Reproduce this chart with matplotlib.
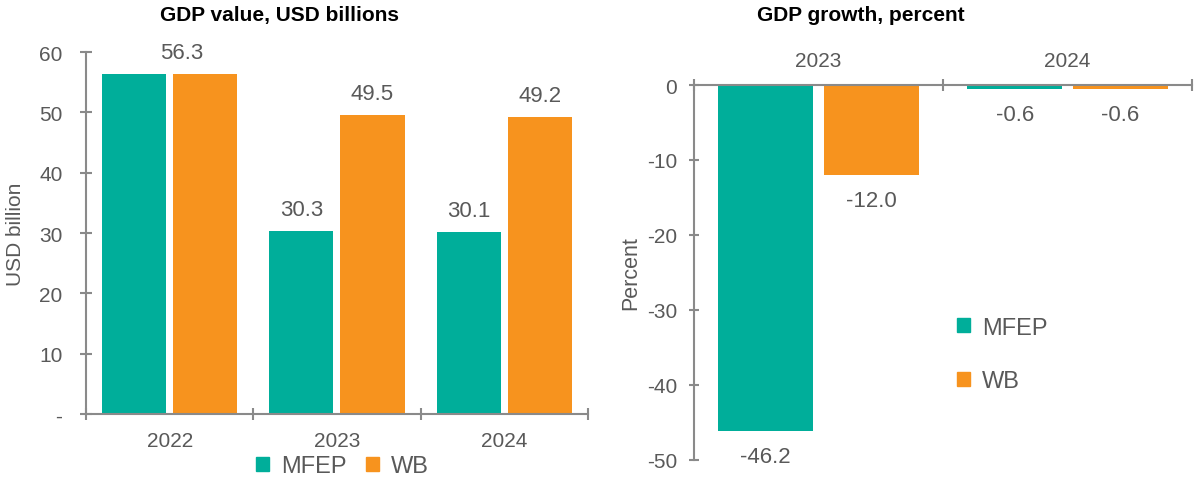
import numpy as np
import matplotlib
matplotlib.use('Agg')
import matplotlib.pyplot as plt
from matplotlib.patches import Patch

plt.rcParams['font.family'] = ['Liberation Sans', 'DejaVu Sans']
plt.rcParams['axes.unicode_minus'] = False

# данные
years_value = ['2022', '2023', '2024']
mfep_value = [56.3, 30.3, 30.1]
wb_value = [56.3, 49.5, 49.2]

years_growth = ['2023', '2024']
mfep_growth = [-46.2, -0.6]
wb_growth = [-12.0, -0.6]

TEAL = '#00AE9A'
ORANGE = '#F7931E'
AXIS = '#8A8A8A'
TEXT = '#595959'

bar_w = 0.383
off = bar_w / 2 + 0.021

fig = plt.figure(figsize=(11.96, 4.81), dpi=100)

# --- левый график: ВВП в млрд долл.
ax1 = fig.add_axes([0.0719, 0.1372, 0.4197, 0.7526])
x = np.arange(len(years_value))
ax1.bar(x - off, mfep_value, bar_w, color=TEAL)
ax1.bar(x + off, wb_value, bar_w, color=ORANGE)
ax1.set_xlim(-0.5, len(years_value) - 0.5)
ax1.set_ylim(0, 60)

# подписи значений (для 2022 одна общая подпись)
ax1.text(0.069, wb_value[0] + 3.6, f'{wb_value[0]:.1f}', ha='center', va='center',
         fontsize=16, color=TEXT)
for i in range(1, len(years_value)):
    ax1.text(x[i] - off, mfep_value[i] + 3.6, f'{mfep_value[i]:.1f}', ha='center',
             va='center', fontsize=16, color=TEXT)
    ax1.text(x[i] + off, wb_value[i] + 3.6, f'{wb_value[i]:.1f}', ha='center',
             va='center', fontsize=16, color=TEXT)

ax1.set_yticks(range(0, 61, 10))
ax1.set_yticklabels(['-'] + [str(v) for v in range(10, 61, 10)])
ax1.set_xticks(x)
ax1.set_xticklabels(years_value)
ax1.set_xticks(np.arange(-0.5, len(years_value), 1), minor=True)
ax1.tick_params(axis='x', which='major', length=0, pad=12, labelsize=15, labelcolor=TEXT)
ax1.tick_params(axis='x', which='minor', direction='inout', length=8, color=AXIS, width=1.5)
ax1.tick_params(axis='y', direction='inout', length=9, color=AXIS, width=1.5,
                labelsize=15, labelcolor=TEXT, pad=12.5)
for s in ['top', 'right']:
    ax1.spines[s].set_visible(False)
for s in ['left', 'bottom']:
    ax1.spines[s].set_color(AXIS)
    ax1.spines[s].set_linewidth(1.5)
ax1.set_ylabel('USD billion', fontsize=15, color=TEXT, labelpad=10)

handles = [Patch(color=TEAL, label='MFEP'), Patch(color=ORANGE, label='WB')]
fig.legend(handles=handles, loc='center', bbox_to_anchor=(0.2864, 0.029), ncol=2,
           frameon=False, fontsize=17, handlelength=0.55, handleheight=0.55,
           handletextpad=0.5, columnspacing=0.85, labelcolor=TEXT)

# --- правый график: рост ВВП, %
ax2 = fig.add_axes([0.5803, 0.0426, 0.4164, 0.7786])
x2 = np.arange(len(years_growth))
ax2.bar(x2 - off, mfep_growth, bar_w, color=TEAL)
ax2.bar(x2 + off, wb_growth, bar_w, color=ORANGE)
ax2.set_xlim(-0.5, len(years_growth) - 0.5)
ax2.set_ylim(-50, 0)

for i in range(len(years_growth)):
    ax2.text(x2[i] - off, mfep_growth[i] - 3.4, f'{mfep_growth[i]:.1f}', ha='center',
             va='center', fontsize=16, color=TEXT)
    ax2.text(x2[i] + off, wb_growth[i] - 3.4, f'{wb_growth[i]:.1f}', ha='center',
             va='center', fontsize=16, color=TEXT)

ax2.xaxis.tick_top()
ax2.set_xticks(x2)
ax2.set_xticklabels(years_growth)
ax2.set_xticks(np.arange(-0.5, len(years_growth), 1), minor=True)
ax2.tick_params(axis='x', which='major', length=0, pad=11, labelsize=15, labelcolor=TEXT)
ax2.tick_params(axis='x', which='minor', direction='inout', length=8, color=AXIS, width=1.5)
ax2.tick_params(axis='y', direction='inout', length=7.5, color=AXIS, width=1.5,
                labelsize=15, labelcolor=TEXT, pad=8.5)
ax2.set_yticks(range(-50, 1, 10))
for s in ['bottom', 'right']:
    ax2.spines[s].set_visible(False)
for s in ['left', 'top']:
    ax2.spines[s].set_color(AXIS)
    ax2.spines[s].set_linewidth(1.5)
ax2.set_ylabel('Percent', fontsize=15.5, color=TEXT, labelpad=4)

fig.legend(handles=handles, loc='center', bbox_to_anchor=(0.838, 0.261),
           frameon=False, fontsize=17, handlelength=0.55, handleheight=0.55,
           handletextpad=0.5, labelspacing=1.35, labelcolor=TEXT)

# заголовки
fig.text(0.234, 0.967, 'GDP value, USD billions', ha='center', va='center',
         fontsize=15, fontweight='bold')
fig.text(0.72, 0.967, 'GDP growth, percent', ha='center', va='center',
         fontsize=15, fontweight='bold')

fig.savefig('out.png', dpi=100)
